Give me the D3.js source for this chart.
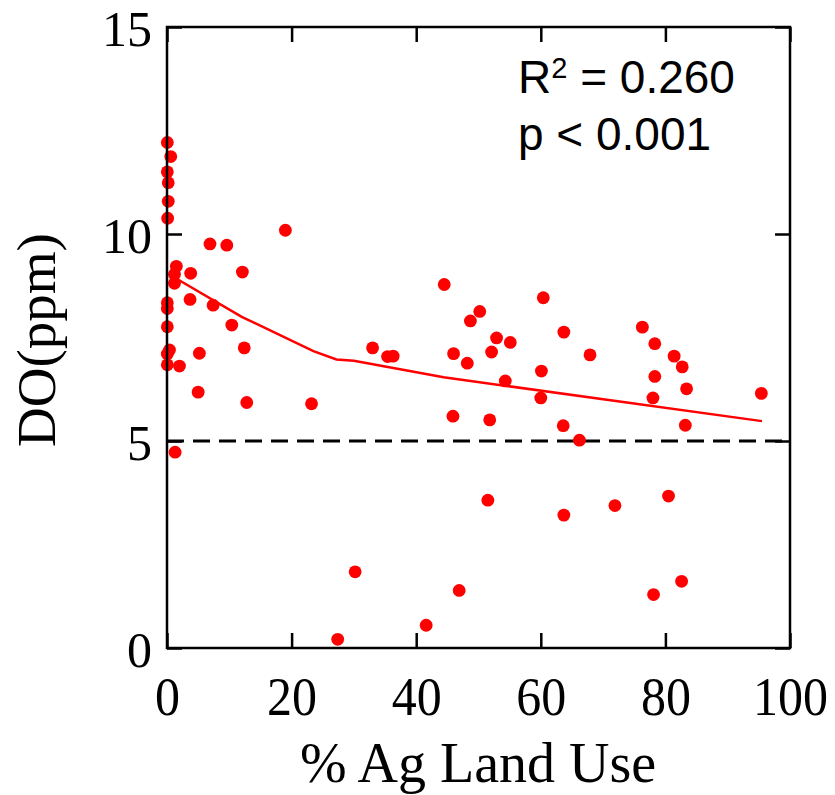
<!DOCTYPE html>
<html><head><meta charset="utf-8">
<script src="https://cdn.jsdelivr.net/npm/d3@7"></script>
<style>body{margin:0;background:#fff}</style>
</head><body>
<svg id="c" width="835" height="795"></svg>
<script>
// % Ag land use (x) and DO in ppm (y)
const agLand = [0.05,0.6,0.05,0.2,0.2,0.1,6.9,9.6,1.5,1.2,3.8,12.1,1.2,0.05,0.05,3.7,7.4,0.05,10.4,0.4,0.05,0.05,2.0,5.2,12.4,5.0,12.8,1.3,
  19.0,33.0,35.4,36.3,23.2,
  44.5,50.2,48.7,52.9,55.1,52.1,46.0,48.2,54.3,60.1,60.0,60.4,63.7,67.9,45.9,51.8,63.6,66.2,76.3,78.3,81.4,82.7,78.3,83.4,78.0,83.2,95.4,
  51.5,63.7,71.9,80.5,30.2,27.4,41.6,46.9,78.1,82.6];
const doPpm = [12.21,11.87,11.50,11.24,10.79,10.38,9.76,9.73,9.22,9.03,9.05,9.08,8.81,8.34,8.20,8.42,8.28,7.76,7.80,7.20,7.10,6.84,6.81,7.12,7.25,6.18,5.93,4.73,
  10.09,7.25,7.04,7.05,5.90,
  8.78,8.13,7.90,7.49,7.38,7.15,7.11,6.88,6.45,6.69,6.04,8.46,7.63,7.08,5.60,5.51,5.37,5.02,7.75,7.35,7.05,6.79,6.56,6.26,6.04,5.38,6.15,
  3.57,3.21,3.44,3.67,1.84,0.21,0.55,1.39,1.29,1.61];
const fitX = [1.2,12.0,23.5,27.2,30.0,44.4,95.5];
const fitY = [8.95,8.00,7.17,6.97,6.94,6.54,5.48];
const xTicks = [0,20,40,60,80,100];
const yTicks = [0,5,10,15];
const threshold = 5;
const statR2 = "0.260";
const statP = "p < 0.001";

const svg = d3.select("#c");
const L = 167, T = 27, R = 790, B = 648;
const x = d3.scaleLinear().domain([0,100]).range([L,R]);
const y = d3.scaleLinear().domain([0,15]).range([B,T]);
const serif = "'Liberation Serif','Times New Roman',serif";
const sans = "'Liberation Sans',Arial,sans-serif";

// dashed 5 ppm line
svg.append("line").attr("x1",x(0)).attr("x2",x(100)).attr("y1",y(threshold)).attr("y2",y(threshold))
  .attr("stroke","#000").attr("stroke-width",2.8).attr("stroke-dasharray","17,9");

// points
svg.append("g").selectAll("circle").data(agLand.map((d,i)=>[d,doPpm[i]])).join("circle")
  .attr("cx",d=>x(d[0])).attr("cy",d=>y(d[1])).attr("r",6.4).attr("fill","#f00");

// fit line
svg.append("path").datum(fitX.map((d,i)=>[d,fitY[i]]))
  .attr("d",d3.line().x(d=>x(d[0])).y(d=>y(d[1])))
  .attr("fill","none").attr("stroke","#f00").attr("stroke-width",2.5);

// axes with inside ticks on all sides
const tl = 15;
const axB = d3.axisBottom(x).tickValues(xTicks).tickSize(-tl).tickFormat(d3.format("d"));
const axT = d3.axisTop(x).tickValues(xTicks).tickSize(-tl).tickFormat("");
const axL = d3.axisLeft(y).tickValues(yTicks).tickSize(-tl).tickFormat(d3.format("d"));
const axR = d3.axisRight(y).tickValues(yTicks).tickSize(-tl).tickFormat("");
function style(g){
  g.select(".domain").remove();
  g.selectAll(".tick line").attr("stroke","#000").attr("stroke-width",2.5);
  g.selectAll("text").attr("fill","#000").attr("font-family",serif).attr("font-size",50);
}
const gB = svg.append("g").attr("transform",`translate(0,${B})`).call(axB).call(style);
svg.append("g").attr("transform",`translate(0,${T})`).call(axT).call(style);
const gL = svg.append("g").attr("transform",`translate(${L},0)`).call(axL).call(style);
svg.append("g").attr("transform",`translate(${R},0)`).call(axR).call(style);
gB.selectAll(".tick text").attr("y",null).attr("dy",null).attr("transform","translate(0,67) scale(1,1.08)");
gL.selectAll(".tick text").attr("x",-15).attr("dy",null).attr("transform","translate(0,18)");
svg.append("rect").attr("x",L).attr("y",T).attr("width",R-L).attr("height",B-T)
  .attr("fill","none").attr("stroke","#000").attr("stroke-width",2.5);

// axis titles
svg.append("text").attr("x",478).attr("y",782).attr("text-anchor","middle")
  .attr("font-family",serif).attr("font-size",56).text("% Ag Land Use");
svg.append("text").attr("transform","translate(55,340) rotate(-90)").attr("text-anchor","middle")
  .attr("font-family",serif).attr("font-size",55).text("DO(ppm)");

// stats
const st = svg.append("text").attr("x",518).attr("y",93).attr("font-family",sans).attr("font-size",46);
st.append("tspan").text("R");
st.append("tspan").attr("font-size",29).attr("dy",-15).text("2");
st.append("tspan").attr("dy",15).text(" = " + statR2);
svg.append("text").attr("x",518).attr("y",150).attr("font-family",sans).attr("font-size",46).text(statP);
</script>
</body></html>
